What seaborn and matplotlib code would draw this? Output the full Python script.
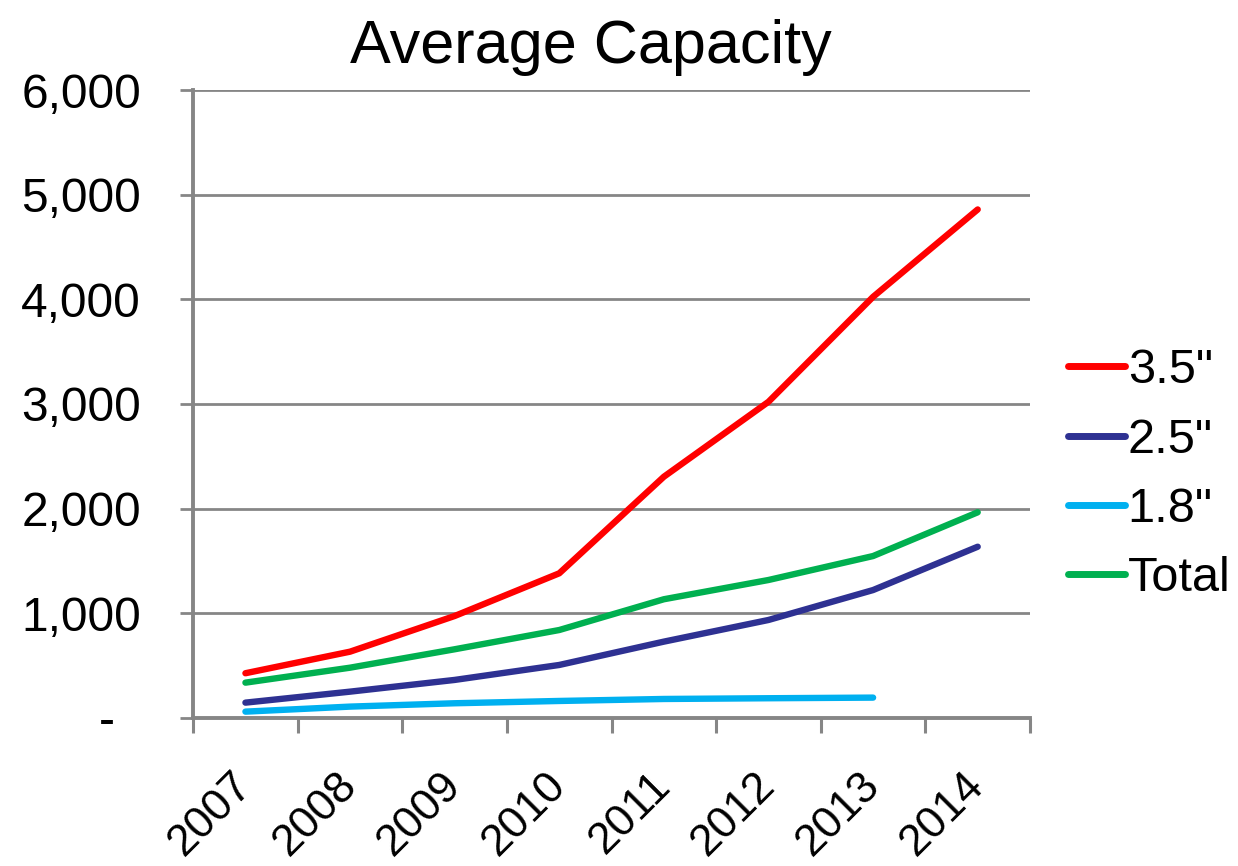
import matplotlib
matplotlib.use("Agg")
import matplotlib.pyplot as plt
import matplotlib.ticker as mticker
import numpy as np
import pandas as pd
import seaborn as sns

# Average capacity per form factor, 2007-2014
years = ["2007", "2008", "2009", "2010", "2011", "2012", "2013", "2014"]
cap_35 = [427, 633, 974, 1382, 2305, 3021, 4024, 4859]
cap_25 = [146, 251, 363, 506, 729, 936, 1222, 1636]
cap_18 = [60, 108, 140, 162, 181, 188, 194, np.nan]
cap_total = [337, 480, 656, 840, 1134, 1318, 1547, 1965]

series_names = ['3.5"', '2.5"', '1.8"', "Total"]
series_values = [cap_35, cap_25, cap_18, cap_total]
colors = ["#FF0000", "#2E3192", "#00B0F0", "#00B050"]

rows = []
for name, vals in zip(series_names, series_values):
    for i, v in enumerate(vals):
        if not np.isnan(v):
            rows.append({"pos": i, "value": v, "series": name})
df = pd.DataFrame(rows)

sns.set_theme(style="white")
plt.rcParams["font.family"] = ["Liberation Sans", "DejaVu Sans"]
plt.rcParams["text.color"] = "black"

fig = plt.figure(figsize=(12.38, 8.66), dpi=100)
ax = fig.add_axes([0.156, 0.171, 0.676, 0.725])

sns.lineplot(data=df, x="pos", y="value", hue="series", hue_order=series_names,
             palette=dict(zip(series_names, colors)), linewidth=4.6, ax=ax,
             sort=True, solid_capstyle="round")

grey = "#868686"
ax.set_xlim(-0.5, len(years) - 0.5)
ax.set_ylim(0, 6000)
ax.yaxis.set_major_locator(mticker.MultipleLocator(1000))
ax.yaxis.set_major_formatter(mticker.FuncFormatter(
    lambda v, p: "-  " if v == 0 else f"{int(v):,}"))
ax.grid(axis="y", color=grey, linewidth=2)
ax.set_axisbelow(True)

# category labels at band centres, tick marks at band boundaries
ax.set_xticks(range(len(years)))
ax.set_xticklabels(years)
ax.set_xticks(np.arange(-0.5, len(years)), minor=True)
ax.tick_params(axis="x", which="major", length=0, pad=44, labelsize=32,
               labelcolor="black")
ax.tick_params(axis="x", which="minor", length=11, width=2.2, color=grey,
               direction="out", bottom=True)
for lbl in ax.get_xticklabels():
    lbl.set_rotation(45)
    lbl.set_ha("right")
    lbl.set_va("center")
    lbl.set_rotation_mode("anchor")
ax.tick_params(axis="y", which="major", length=9.5, width=2, color=grey,
               direction="out", left=True, pad=28, labelsize=34.5,
               labelcolor="black")

for side in ["top", "right"]:
    ax.spines[side].set_visible(False)
for side in ["left", "bottom"]:
    ax.spines[side].set_color(grey)
    ax.spines[side].set_linewidth(2.8)

ax.set_xlabel("")
ax.set_ylabel("")
fig.text(591 / 1238, 1 - 63 / 866, "Average Capacity", fontsize=44,
         ha="center", va="baseline", color="black")

leg = ax.legend(loc="center left", bbox_to_anchor=(1.022, 0.387), frameon=False,
                fontsize=35, handlelength=1.17, handletextpad=0.06,
                labelspacing=0.5, borderaxespad=0)
for t in leg.get_texts():
    t.set_color("black")
for h in leg.get_lines():
    h.set_linewidth(5)
    h.set_solid_capstyle("round")

fig.savefig("out.png", dpi=100)
